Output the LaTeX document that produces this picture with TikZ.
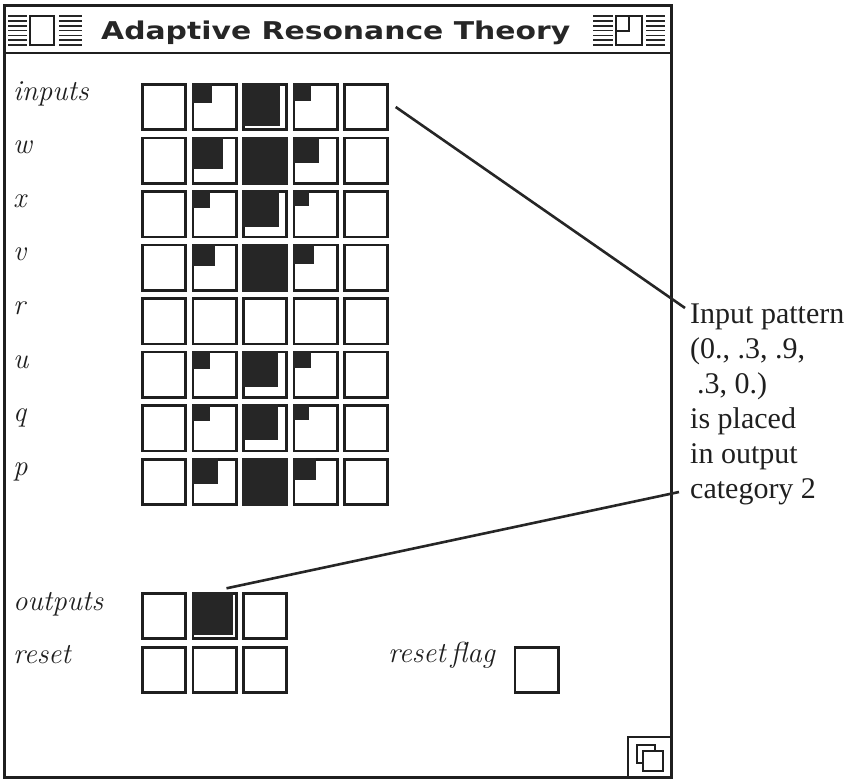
\documentclass[tikz,border=0pt]{standalone}
\usepackage{fontspec}
\usepackage{graphicx}
\newfontfamily\annfont{Liberation Serif}
\newfontfamily\ttlfont{DejaVu Sans}
\tikzset{
  ink/.style={draw=black!88},
  cellbox/.style={draw=black!88, line width=2.6pt, minimum width=43.4pt, minimum height=45.4pt, inner sep=0pt, outer sep=0pt},
  lbl/.style={anchor=base west, inner sep=0pt, font=\fontsize{29}{34}\selectfont\itshape, text=black!88},
  ann/.style={anchor=base west, inner sep=0pt, font=\annfont\fontsize{30}{35}\selectfont, text=black!88},
  conn/.style={draw=black!85, line width=2.6pt},
  dark/.style={fill=black!85},
  stripe/.style={draw=black!85, line width=1.6pt},
}
\begin{document}
\begin{tikzpicture}[x=1pt,y=-1pt]
\useasboundingbox (0,0) rectangle (859,779);
% window frame and title bar
\draw[ink, line width=3pt] (4,5) rectangle (671,777);
\draw[ink, line width=2.5pt] (4,53) -- (671,53);
\foreach \k in {0,...,6} {
  \draw[stripe] (8,{16+4.85*\k}) -- (27,{16+4.85*\k});
  \draw[stripe] (59,{16+4.85*\k}) -- (82,{16+4.85*\k});
  \draw[stripe] (593,{16+4.85*\k}) -- (613,{16+4.85*\k});
  \draw[stripe] (646,{16+4.85*\k}) -- (665,{16+4.85*\k});
}
\draw[ink, line width=2pt, fill=white] (30,16) rectangle (54,45);
\draw[ink, line width=2pt, fill=white] (616,16) rectangle (642,45);
\draw[ink, line width=2pt] (616,31) -- (629,31) -- (629,16);
\node[anchor=base west, inner sep=0pt, text=black!85] (title) at (101,39.3)
  {\resizebox{469pt}{18.6pt}{\ttlfont\bfseries Adaptive Resonance Theory}};
% main grid
\foreach \r/\nm in {1/in,2/w,3/x,4/v,5/r,6/u,7/q,8/p} {
  \foreach \c in {1,...,5} {
    \node[cellbox] (\nm-\c) at ({164+50.5*(\c-1)}, {107+53.57*(\r-1)}) {};
  }
}
% fills (width/height from the outer top-left corner)
\foreach \nm/\c/\w/\h in {in/2/20/20, in/3/38/43, in/4/18/18,
  w/2/31/32, w/3/46/48, w/4/26/26,
  x/2/18/18, x/3/37/37, x/4/16/16,
  v/2/23/22, v/3/46/48, v/4/21/20,
  u/2/18/18, u/3/36/36, u/4/18/17,
  q/2/18/17, q/3/36/36, q/4/16/16,
  p/2/26/26, p/3/46/48, p/4/23/22} {
  \fill[black!85] ([shift={(-1.3pt,1.3pt)}]\nm-\c.north west) rectangle ++(\w,\h);
}
% row labels
\node[lbl] (l-in) at (13,100) {inputs};
\node[lbl] (l-w) at (13,153.6) {w};
\node[lbl] (l-x) at (13,207) {x};
\node[lbl] (l-v) at (13,260.7) {v};
\node[lbl] (l-r) at (13,314) {r};
\node[lbl] (l-u) at (13,368) {u};
\node[lbl] (l-q) at (13,421) {q};
\node[lbl] (l-p) at (13,475) {p};
% outputs and reset
\foreach \c in {1,2,3} {
  \node[cellbox] (out-\c) at ({164+50.5*(\c-1)}, 616) {};
  \node[cellbox] (res-\c) at ({164+50.5*(\c-1)}, 670) {};
}
\fill[black!85] ([shift={(-1.3pt,1.3pt)}]out-2.north west) rectangle ++(41,43);
\node[lbl] (l-out) at (13,610) {outputs};
\node[lbl] (l-res) at (13,663) {reset};
\node[cellbox] (flag) at (536.5,670) {};
\node[lbl] (l-flag) at (388,662) {reset\,flag};
% size box
\draw[ink, line width=2pt] (628,777) -- (628,737) -- (671,737);
\draw[ink, line width=1.8pt] (637,745) rectangle (655,763);
\draw[ink, line width=1.8pt, fill=white] (643,751) rectangle (663,771);
% annotation
\node[ann] (t1) at (690,323) {Input pattern};
\node[ann] (t2) at (690,358) {(0., .3, .9,};
\node[ann] (t3) at (697,393) {.3, 0.)};
\node[ann] (t4) at (690,428) {is placed};
\node[ann] (t5) at (690,463) {in output};
\node[ann] (t6) at (690,498) {category 2};
\coordinate (e1) at (685,308);
\coordinate (e2) at (679,492);
\draw[conn] ([xshift=8pt]in-5.east) -- (e1);
\draw[conn] ([xshift=12pt,yshift=5pt]out-2.north) -- (e2);
\end{tikzpicture}
\end{document}
